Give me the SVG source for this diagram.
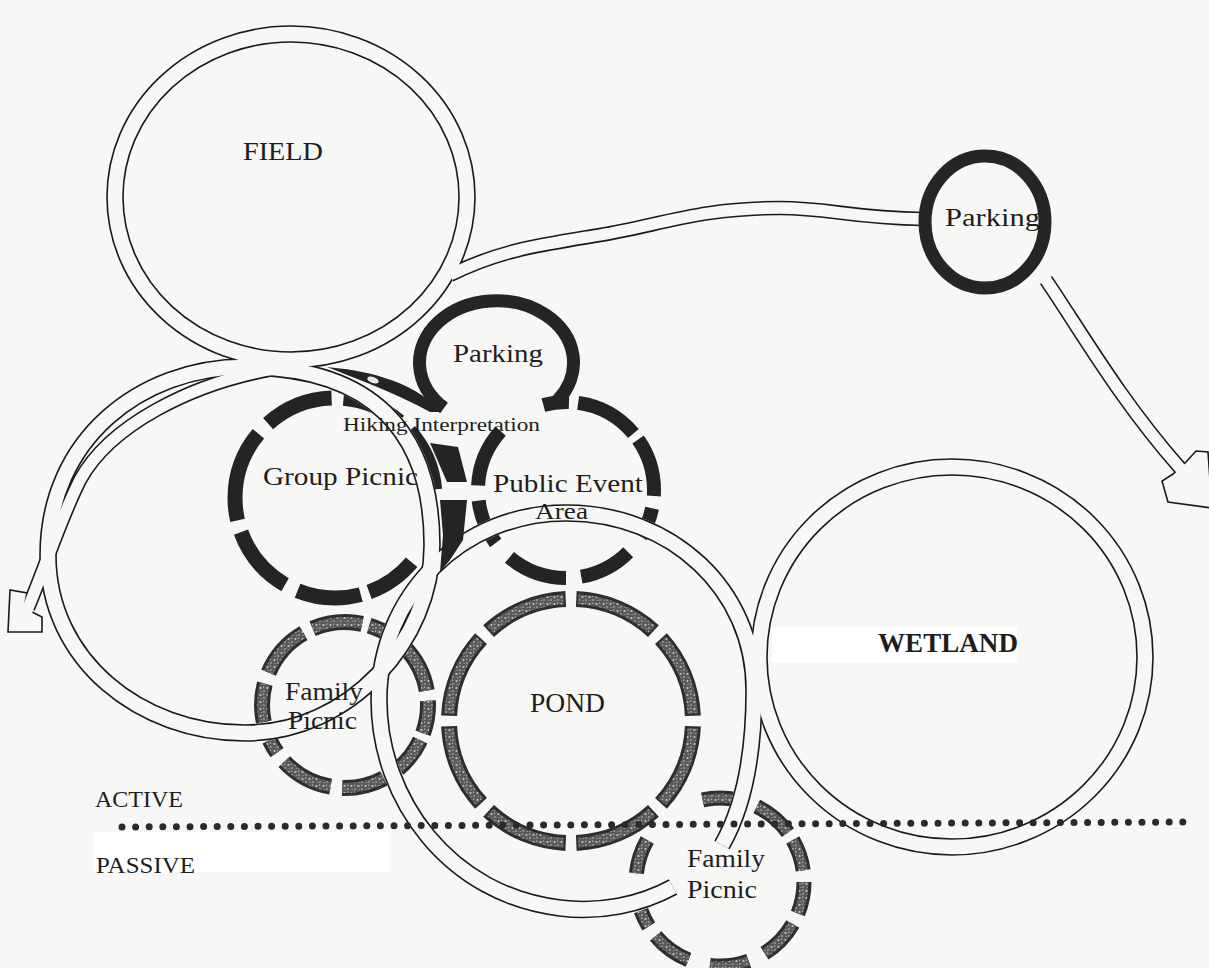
<svg xmlns="http://www.w3.org/2000/svg" xmlns:xlink="http://www.w3.org/1999/xlink" width="1209" height="968" viewBox="0 0 1209 968">
<defs>
<style>
.bk{fill:none;stroke:#1a1a1a;stroke-width:17.6}
.wh{fill:none;stroke:#f7f7f5;stroke-width:14.4}
.bkn{fill:none;stroke:#1a1a1a;stroke-width:14.6}
.whn{fill:none;stroke:#f7f7f5;stroke-width:11.4}
.dark{fill:none;stroke:#242424}
.stb{fill:none;stroke:#2e2e2e}
.sti{fill:none;stroke:url(#stip)}
.park{fill:none;stroke:#252525;stroke-width:13}
.lbl{font-family:"Liberation Serif","Times New Roman",serif;fill:#1e1e1e}
.arrow{fill:#f7f7f5;stroke:#1a1a1a;stroke-width:1.6;stroke-linejoin:miter}
</style>
<pattern id="stip" width="7" height="7" patternUnits="userSpaceOnUse">
<rect width="7" height="7" fill="#5a5a5a"/>
<circle cx="1.5" cy="2" r="1.1" fill="#c4c4c4"/>
<circle cx="5" cy="5" r="0.9" fill="#a0a0a0"/>
<circle cx="4.6" cy="1.2" r="0.6" fill="#d0d0d0"/>
<circle cx="2.2" cy="5.6" r="0.5" fill="#bbbbbb"/>
</pattern>
<ellipse id="g-field" cx="291" cy="197" rx="176" ry="163"/>
<ellipse id="g-wetland" cx="952" cy="657" rx="193" ry="190"/>
<path id="g-pond" d="M 673 887 C 640 905 600 913 560 908 C 450 895 379 800 379 700 C 379 595 462 513 566 513 C 672 513 754 590 754 690 C 754 760 742 810 722 845"/>
<path id="g-loop" d="M 245 367 C 370 367 432 430 432 545 C 432 640 350 733 245 733 C 140 733 48 660 48 555 C 48 440 140 367 245 367 Z"/>
<path id="g-diag" d="M 268 370 C 190 385 110 425 80 480 C 60 520 48 560 28 608"/>
<path id="g-road1" d="M 450 275 C 500 250 540 245 600 235 C 660 225 700 208 780 208 C 830 208 850 218 924 219"/>
<path id="g-road2" d="M 1046 280 C 1080 330 1120 400 1180 468"/>
<mask id="offband" maskUnits="userSpaceOnUse" x="0" y="0" width="1209" height="968">
<rect width="1209" height="968" fill="#fff"/>
<use xlink:href="#g-loop" fill="none" stroke="#000" stroke-width="17.6"/>
<use xlink:href="#g-pond" fill="none" stroke="#000" stroke-width="17.6"/>
<use xlink:href="#g-diag" fill="none" stroke="#000" stroke-width="17.6"/>
<use xlink:href="#g-field" fill="none" stroke="#000" stroke-width="17.6"/>
</mask>
</defs>

<rect width="1209" height="968" fill="#f7f7f5"/>
<g id="label-patches">
<rect x="93" y="832" width="297" height="40" fill="#ffffff"/>
<rect x="772" y="627" width="245" height="36" fill="#ffffff"/>
</g>

<g id="connectors">
<g id="trail-outlines">
<use xlink:href="#g-field" class="bk"/>
<use xlink:href="#g-wetland" class="bk"/>
<use xlink:href="#g-pond" class="bk"/>
<use xlink:href="#g-loop" class="bk"/>
<use xlink:href="#g-diag" class="bkn"/>
<use xlink:href="#g-road1" class="bkn"/>
<use xlink:href="#g-road2" class="bkn"/>
</g>
<polygon class="arrow" points="24,607 27,593 10,590 8,632 42,632 42,617 34,613"/>
<polygon class="arrow" points="1186,462 1196,451 1208,452 1212,508 1168,502 1162,481 1173,474"/>
<g id="trail-fills">
<use xlink:href="#g-field" class="wh"/>
<use xlink:href="#g-wetland" class="wh"/>
<use xlink:href="#g-pond" class="wh"/>
<use xlink:href="#g-loop" class="wh"/>
<use xlink:href="#g-diag" class="whn" style="stroke-linecap:square"/>
<use xlink:href="#g-road1" class="whn"/>
<use xlink:href="#g-road2" class="whn" style="stroke-linecap:square"/>
</g>
</g>

<g id="group-picnic">
<circle cx="335" cy="498" r="100" pathLength="360" class="dark" stroke-width="15" stroke-dasharray="30 5 37 8 40 7 53 8 40 7 35 8 37 45" stroke-dashoffset="-40" mask="url(#offband)"/>
<text class="lbl" x="263" y="485" font-size="26" textLength="155" lengthAdjust="spacingAndGlyphs">Group Picnic</text>
</g>

<g id="public-event-area">
<circle cx="566" cy="490" r="88" pathLength="360" class="dark" stroke-width="14" stroke-dasharray="20 13 35 10 40 13 30 10 39 33 17 6 42 5 39 8" stroke-dashoffset="-12" mask="url(#offband)"/>
<text class="lbl" x="493" y="492" font-size="25" textLength="150" lengthAdjust="spacingAndGlyphs">Public Event</text>
<text class="lbl" x="535" y="519" font-size="23" textLength="53" lengthAdjust="spacingAndGlyphs">Area</text>
</g>

<g id="hiking-interpretation">
<path d="M 327 367 C 360 370 410 378 442 412 L 430 412 C 400 395 360 380 327 367 Z" fill="#242424"/>
<ellipse cx="373" cy="380" rx="6" ry="3" fill="#e8e8e8" transform="rotate(20 373 380)"/>
<path d="M 430 443 L 458 447 L 467 482 L 447 482 Z" fill="#242424"/>
<path d="M 440 500 L 467 500 L 463 540 L 450 560 L 440 572 L 443 535 Z" fill="#242424"/>
<text class="lbl" x="343" y="431" font-size="19" textLength="197" lengthAdjust="spacingAndGlyphs">Hiking Interpretation</text>
</g>

<g id="parking-middle">
<path d="M 444 408 A 77 62 0 1 1 558 400" class="park"/>
<text class="lbl" x="453" y="362" font-size="26" textLength="90" lengthAdjust="spacingAndGlyphs">Parking</text>
</g>

<g id="parking-top">
<ellipse cx="985" cy="222" rx="60" ry="66" class="park"/>
<text class="lbl" x="945" y="226" font-size="26" textLength="95" lengthAdjust="spacingAndGlyphs">Parking</text>
</g>

<g id="field">
<text class="lbl" x="243" y="160" font-size="25" textLength="80" lengthAdjust="spacingAndGlyphs">FIELD</text>
</g>

<g id="pond">
<circle cx="571" cy="721" r="122" pathLength="360" class="stb" stroke-width="16" stroke-dasharray="40 5" stroke-dashoffset="-2.5"/>
<circle cx="571" cy="721" r="122" pathLength="360" class="sti" stroke-width="10" stroke-dasharray="38 7" stroke-dashoffset="-3.5"/>
<text class="lbl" x="530" y="712" font-size="27" textLength="75" lengthAdjust="spacingAndGlyphs">POND</text>
</g>

<g id="family-picnic-1">
<g mask="url(#offband)">
<circle cx="345" cy="705" r="83" pathLength="360" class="stb" stroke-width="16" stroke-dasharray="23 5 25 12 30 8 37 8 10 13 27 8 37 7 35 5 18 10 35 7" stroke-dashoffset="3"/>
<circle cx="345" cy="705" r="83" pathLength="360" class="sti" stroke-width="10" stroke-dasharray="23 5 25 12 30 8 37 8 10 13 27 8 37 7 35 5 18 10 35 7" stroke-dashoffset="3"/>
</g>
<text class="lbl" x="285" y="700" font-size="26" textLength="78" lengthAdjust="spacingAndGlyphs">Family</text>
<text class="lbl" x="288" y="729" font-size="26" textLength="69" lengthAdjust="spacingAndGlyphs">Picnic</text>
</g>

<g id="family-picnic-2">
<g mask="url(#offband)">
<circle cx="720" cy="882" r="84" pathLength="360" class="stb" stroke-width="15" stroke-dasharray="22 8 28 12 27 15 28 8 12 26 24 48 24 14 28 6 22 8"/>
<circle cx="720" cy="882" r="84" pathLength="360" class="sti" stroke-width="9" stroke-dasharray="22 8 28 12 27 15 28 8 12 26 24 48 24 14 28 6 22 8"/>
</g>
<text class="lbl" x="687" y="867" font-size="26" textLength="78" lengthAdjust="spacingAndGlyphs">Family</text>
<text class="lbl" x="687" y="898" font-size="26" textLength="70" lengthAdjust="spacingAndGlyphs">Picnic</text>
</g>

<g id="wetland">
<text class="lbl" x="878" y="652" font-size="27" font-weight="bold" textLength="140" lengthAdjust="spacingAndGlyphs">WETLAND</text>
</g>

<g id="active-passive">
<line x1="122" y1="827" x2="1185" y2="822" stroke="#2a2a2a" stroke-width="7" stroke-linecap="round" stroke-dasharray="0 13.6"/>
<text class="lbl" x="95" y="807" font-size="24" textLength="88" lengthAdjust="spacingAndGlyphs">ACTIVE</text>
<text class="lbl" x="96" y="873" font-size="24" textLength="99" lengthAdjust="spacingAndGlyphs">PASSIVE</text>
</g>
</svg>
